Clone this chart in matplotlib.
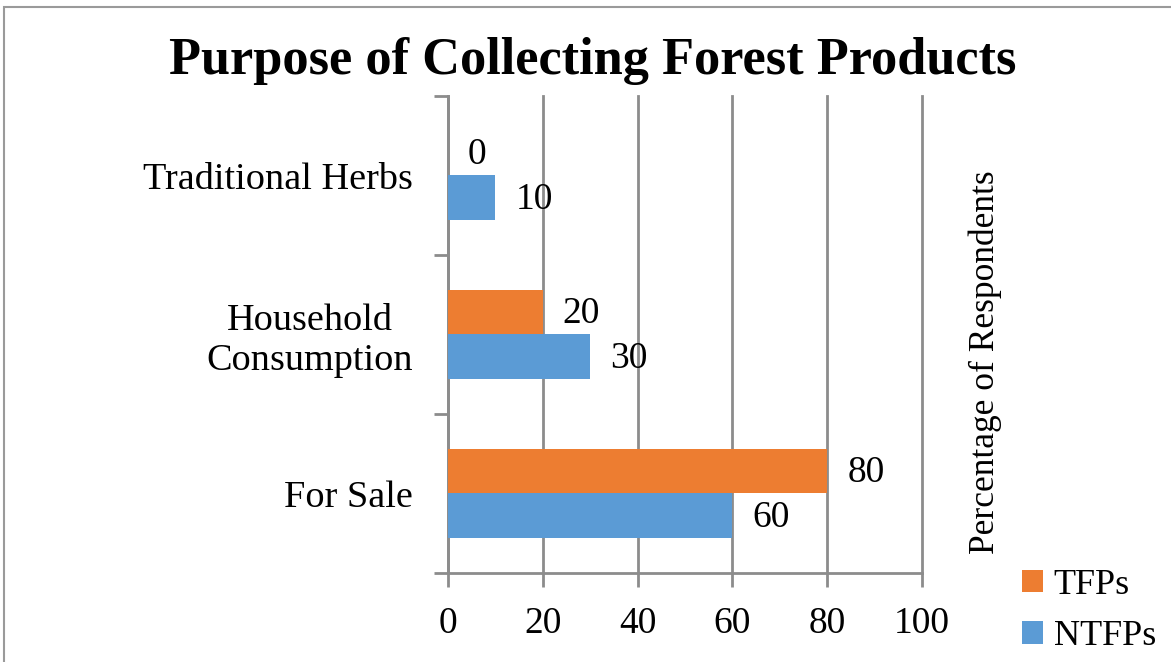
import matplotlib
matplotlib.use("Agg")
import matplotlib.pyplot as plt
from matplotlib.patches import Rectangle
import numpy as np

categories = ["For Sale", "Household\nConsumption", "Traditional Herbs"]
tfps = [80, 20, 0]
ntfps = [60, 30, 10]
series_names = ["TFPs", "NTFPs"]
xticks = [0, 20, 40, 60, 80, 100]

plt.rcParams['font.family'] = ['Liberation Serif', 'DejaVu Serif']

fig = plt.figure(figsize=(11.71, 6.62), dpi=100)
ax = fig.add_axes([448/1171, 1-573/662, (922-448)/1171, (573-96)/662])

orange = "#ED7D31"
blue = "#5B9BD5"
grid = "#8C8C8C"
h = 0.283
y = np.arange(len(categories))
b1 = ax.barh(y + h/2, tfps, height=h, color=orange, label=series_names[0], zorder=3)
b2 = ax.barh(y - h/2, ntfps, height=h, color=blue, label=series_names[1], zorder=3)

for bars, vals in ((b1, tfps), (b2, ntfps)):
    for rect, v in zip(bars, vals):
        ax.annotate(str(v), (v, rect.get_y() + rect.get_height()/2),
                    xytext=(20, -2), textcoords="offset pixels",
                    ha="left", va="center", fontsize=27)

ax.set_xlim(0, 100)
ax.set_ylim(-0.5, 2.5)
ax.set_xticks(xticks)
ax.set_xticklabels([str(t) for t in xticks], fontsize=27)
ax.set_yticks([-0.5, 0.5, 1.5, 2.5])
ax.set_yticklabels([])
ax.set_yticks(y, minor=True)
ax.set_yticklabels(categories, minor=True, fontsize=27.5, ha="right", multialignment="center")
ax.tick_params(axis="y", which="minor", length=0, pad=25)
ax.tick_params(axis="y", which="major", length=10, width=2, color=grid, direction="out")
ax.tick_params(axis="x", length=10, width=2, color=grid, direction="out", pad=14)
ax.xaxis.grid(True, color=grid, linewidth=2, zorder=0)
for gl in ax.get_xgridlines():
    gl.set_clip_on(False)
for s in ["top", "right"]:
    ax.spines[s].set_visible(False)
for s in ["left", "bottom"]:
    ax.spines[s].set_color(grid)
    ax.spines[s].set_linewidth(2)

fig.text(593/1171, 1-61/662, "Purpose of Collecting Forest Products", fontsize=37.7,
         fontweight="bold", ha="center", va="center")
fig.text(985/1171, 1-362/662, "Percentage of Respondents", fontsize=25.5,
         rotation=90, ha="center", va="center")

leg = fig.legend(handles=[b1, b2], loc="center left", bbox_to_anchor=(1022/1171, 1-611/662),
                 frameon=False, fontsize=26, handlelength=0.58, handleheight=0.58,
                 handletextpad=0.3, labelspacing=0.5, borderpad=0, borderaxespad=0)

fig.patches.append(Rectangle((0.003, -0.01), 1.1, 1.0, transform=fig.transFigure,
                             fill=False, edgecolor="#9A9A9A", linewidth=1.5))

fig.savefig("out.png", dpi=100)
